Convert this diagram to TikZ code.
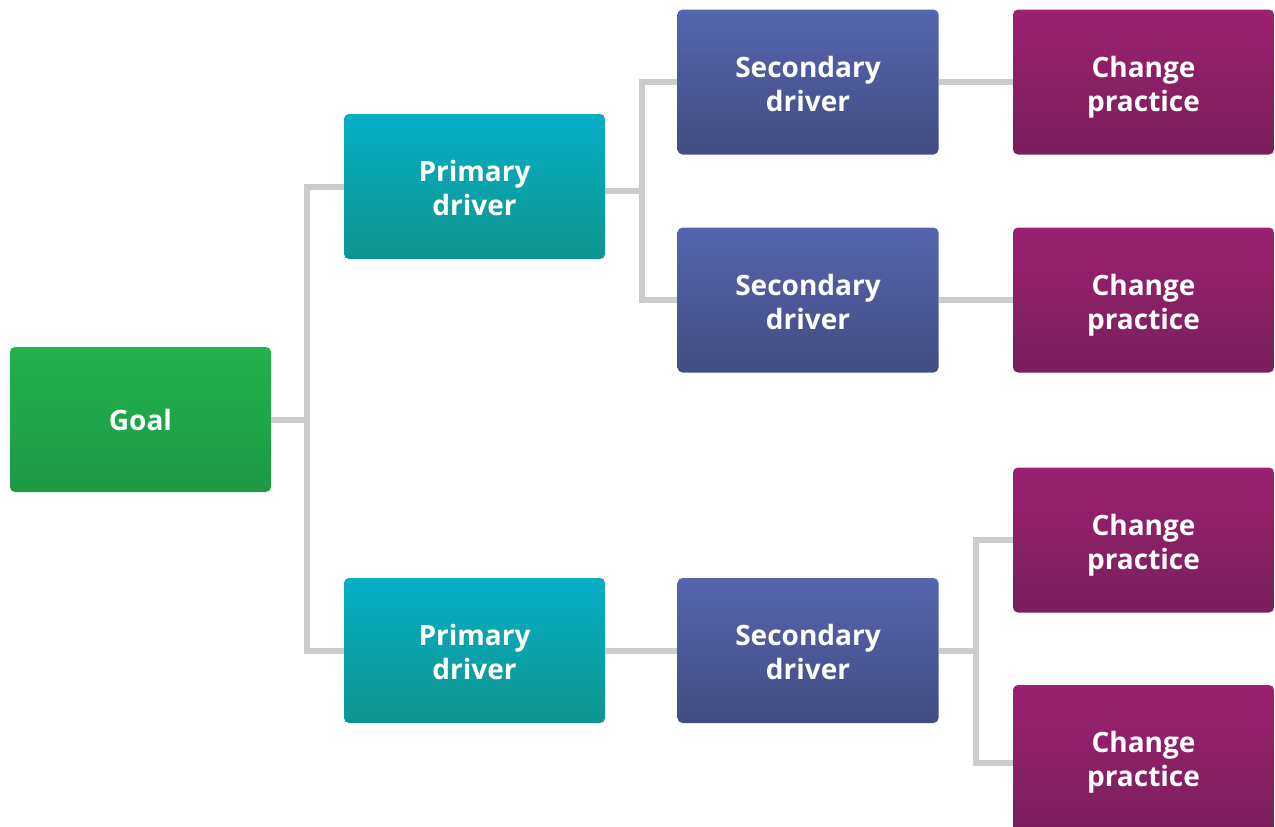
\documentclass[tikz,border=0pt]{standalone}
\usepackage{fontspec}
\setmainfont{Open Sans}
\usetikzlibrary{calc}

\definecolor{goalTop}{HTML}{22B24B}
\definecolor{goalBot}{HTML}{1E9947}
\definecolor{primTop}{HTML}{06AEC6}
\definecolor{primBot}{HTML}{0F958F}
\definecolor{secTop}{HTML}{5564AE}
\definecolor{secBot}{HTML}{434D82}
\definecolor{chgTop}{HTML}{9C2170}
\definecolor{chgBot}{HTML}{781F5A}
\definecolor{linkGray}{HTML}{CCCCCC}

\begin{document}
\begin{tikzpicture}[x=1pt,y=-1pt,
  box/.style={rounded corners=5pt, minimum width=261pt, minimum height=145pt,
    inner sep=0pt, align=center, text=white,
    font=\bfseries\fontsize{28}{34}\selectfont},
  twoline/.style={text height=64pt, text depth=6pt},
  goalbox/.style={box, top color=goalTop, bottom color=goalBot},
  primbox/.style={box, twoline, top color=primTop, bottom color=primBot},
  secbox/.style={box, twoline, top color=secTop, bottom color=secBot},
  chgbox/.style={box, twoline, top color=chgTop, bottom color=chgBot},
  link/.style={draw=linkGray, line width=6pt, line join=miter}]
\useasboundingbox (0,0) rectangle (1275,827);

% columns of the bracket connectors
\coordinate (j1) at (306.5,0);
\coordinate (j2) at (642,0);
\coordinate (j3) at (976,0);

% boxes
\node[goalbox] (goal) at (140.5,419.5) {Goal};
\node[primbox] (p1) at (474.5,186.5) {Primary\\driver};
\node[primbox] (p2) at (474.5,650.5) {Primary\\driver};
\node[secbox] (s1) at (808,82) {Secondary\\driver};
\node[secbox] (s2) at (808,300) {Secondary\\driver};
\node[secbox] (s3) at (808,650.5) {Secondary\\driver};
\node[chgbox] (c1) at (1143.5,82) {Change\\practice};
\node[chgbox] (c2) at (1143.5,300) {Change\\practice};
\node[chgbox] (c3) at (1143.5,540) {Change\\practice};
\node[chgbox, minimum height=155pt, text height=53pt] (c4) at (1143.5,762.5) {Change\\practice};

% bracket midpoints
\coordinate (m1) at ($(s1.west)!.5!(s2.west)$);
\coordinate (m3) at ($(c3.west)!.5!(c4.west)$);

% connectors
\path[link] (goal.east) -- (goal.east -| j1);
\path[link] (p1.west) -- (p1.west -| j1) -- (p2.west -| j1) -- (p2.west);

\path[link] (m1 -| p1.east) -- (m1 -| j2);
\path[link] (s1.west) -- (s1.west -| j2) -- (s2.west -| j2) -- (s2.west);

\path[link] (s1.east) -- (c1.west);
\path[link] (s2.east) -- (c2.west);
\path[link] (p2.east) -- (s3.west);

\path[link] (m3 -| s3.east) -- (m3 -| j3);
\path[link] (c3.west) -- (c3.west -| j3) -- (c4.west -| j3) -- (c4.west);
\end{tikzpicture}
\end{document}
